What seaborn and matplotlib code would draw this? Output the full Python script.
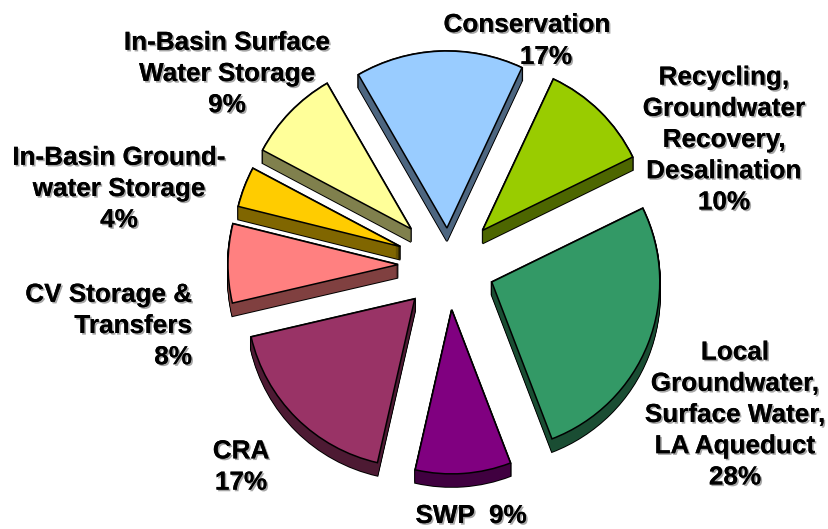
# -*- coding: utf-8 -*-
import matplotlib
matplotlib.use('Agg')
import matplotlib.pyplot as plt
import matplotlib.patheffects as pe
import seaborn as sns

names = ['Conservation', 'Recycling', 'Local', 'SWP', 'CRA', 'CV', 'Ground', 'Surface']
shares = [15.3, 10.8, 26.4, 9.4, 17.8, 7.5, 3.9, 8.9]
hex_colors = ['#99CCFF', '#99CC00', '#339966', '#800080', '#993366', '#FF8080', '#FFCC00', '#FFFF99']
explode_px = [37, 48.6, 46.5, 45, 47.8, 50.5, 51.5, 52]
radii = [177, 167, 168, 164, 168, 170, 167, 168]

label_texts = ['Conservation', '17%',
               'Recycling,\nGroundwater\nRecovery,\nDesalination\n10%',
               'Local\nGroundwater,\nSurface Water,\nLA Aqueduct\n28%',
               'SWP  9%',
               'CRA\n17%',
               'CV Storage &\nTransfers\n8%',
               'In-Basin Ground-\nwater Storage\n4%',
               'In-Basin Surface\nWater Storage\n9%']
label_x = [527, 546, 724, 735, 471, 241, 192, 119, 227]
label_y = [25, 57, 140, 415, 516, 467, 326, 189, 74]
label_ha = ['center', 'center', 'center', 'center', 'center', 'center', 'right', 'center', 'center']

W, H = 829, 529
cx, cy = 448.5, 265
depth = 13
start = 120

sns.set_theme(style='white')
plt.rcParams['font.family'] = ['Liberation Sans', 'DejaVu Sans']

fig = plt.figure(figsize=(W / 100, H / 100), dpi=100)
ax = fig.add_axes([0, 0, 1, 1])

palette = sns.color_palette(hex_colors)
dark = [tuple(c * 0.5 for c in col) for col in palette]


def draw_layer(colors, drop, edge, lw):
    wedges = ax.pie(shares, explode=explode_px, colors=colors, startangle=start,
                    counterclock=False, radius=100, center=(cx, H - cy - drop),
                    wedgeprops={'edgecolor': edge, 'linewidth': lw})[0]
    for w, r in zip(wedges, radii):
        w.set_radius(r)


# black silhouette of the sides
for d in range(depth + 1):
    draw_layer(['black'] * len(shares), d, 'black', 1.4)
# dark sides
for d in range(depth, 0, -1):
    draw_layer(dark, d, 'none', 0)
# top faces
draw_layer(palette, 0, 'black', 1.1)

ax.set_xlim(0, W)
ax.set_ylim(0, H)
ax.set_aspect('equal')

shadow = [pe.withSimplePatchShadow(offset=(1.2, -1.2), shadow_rgbFace='#808080', alpha=0.7), pe.Normal()]
for txt, x, y, ha in zip(label_texts, label_x, label_y, label_ha):
    ax.text(x, H - y, txt, ha=ha, va='center', multialignment=ha, fontsize=18.8, fontweight='bold',
            color='black', linespacing=1.38, path_effects=shadow)

fig.savefig('out.png', dpi=100)
